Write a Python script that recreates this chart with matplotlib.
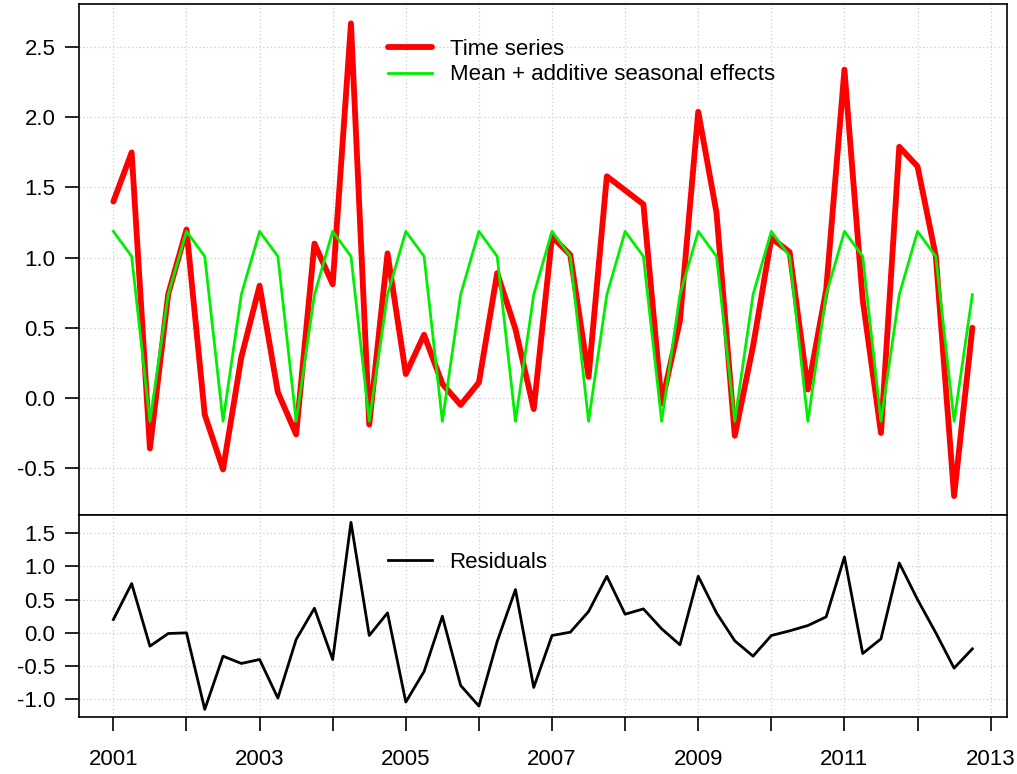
import numpy as np
import matplotlib
matplotlib.use("Agg")
import matplotlib.pyplot as plt

plt.rcParams['font.family'] = ['Liberation Sans', 'DejaVu Sans']
plt.rcParams['axes.unicode_minus'] = False

# Quarterly series, 2001 Q1 .. 2012 Q4
start_year = 2001
n_quarters = 48

series = [1.40, 1.75, -0.36, 0.74, 1.20, -0.12, -0.51, 0.29,
          0.80, 0.04, -0.26, 1.10, 0.81, 2.67, -0.19, 1.03,
          0.17, 0.45, 0.10, -0.05, 0.11, 0.89, 0.49, -0.08,
          1.15, 1.02, 0.15, 1.58, 1.48, 1.38, -0.04, 0.55,
          2.04, 1.32, -0.27, 0.37, 1.14, 1.04, 0.06, 0.77,
          2.34, 0.70, -0.25, 1.79, 1.65, 1.01, -0.70, 0.50]

# mean + seasonal effect for Q1..Q4
seasonal = [1.187, 1.009, -0.167, 0.736]

residuals = [0.20, 0.74, -0.20, -0.01, 0.00, -1.15, -0.35, -0.46,
             -0.40, -0.98, -0.10, 0.37, -0.40, 1.66, -0.04, 0.30,
             -1.04, -0.58, 0.25, -0.79, -1.10, -0.13, 0.65, -0.82,
             -0.04, 0.01, 0.32, 0.85, 0.28, 0.36, 0.06, -0.18,
             0.85, 0.30, -0.12, -0.35, -0.04, 0.03, 0.11, 0.24,
             1.14, -0.31, -0.09, 1.05, 0.50, 0.00, -0.53, -0.24]

t = start_year + np.arange(n_quarters) / 4
fitted = np.tile(seasonal, n_quarters // 4)

fig = plt.figure(figsize=(10.17, 7.74), dpi=100)
ax1 = fig.add_axes([0.0777, 0.3346, 0.9122, 0.6602])
ax2 = fig.add_axes([0.0777, 0.0740, 0.9122, 0.2606])

grid_kw = dict(color='#cccccc', linestyle=(0, (1, 2)), linewidth=0.9)
years = np.arange(2001, 2014)
fs = 16

# top panel
ax1.plot(t, series, color='#ff0000', lw=4.2, solid_joinstyle='round',
         solid_capstyle='round', label='Time series', zorder=3)
ax1.plot(t, fitted, color='#00ee00', lw=2.0, label='Mean + additive seasonal effects', zorder=4)
ax1.set_xlim(2000.53, 2013.22)
ax1.set_ylim(-0.835, 2.808)
ax1.set_yticks([-0.5, 0.0, 0.5, 1.0, 1.5, 2.0, 2.5])
ax1.set_yticklabels(['-0.5', '0.0', '0.5', '1.0', '1.5', '2.0', '2.5'])
ax1.set_xticks(years)
ax1.tick_params(axis='x', bottom=False, labelbottom=False)
ax1.grid(True, **grid_kw)
ax1.legend(loc='upper left', bbox_to_anchor=(0.312, 0.971), frameon=False,
           fontsize=fs, handlelength=1.95, handletextpad=0.8, labelspacing=0.2)

# bottom panel
ax2.plot(t, residuals, color='black', lw=2.0, label='Residuals', zorder=3)
ax2.set_xlim(2000.53, 2013.22)
ax2.set_ylim(-1.26, 1.77)
ax2.set_yticks([-1.0, -0.5, 0.0, 0.5, 1.0, 1.5])
ax2.set_yticklabels(['-1.0', '-0.5', '0.0', '0.5', '1.0', '1.5'])
ax2.set_xticks(years)
ax2.set_xticklabels([str(y) if y % 2 == 1 else '' for y in years])
ax2.grid(True, **grid_kw)
ax2.legend(loc='upper left', bbox_to_anchor=(0.312, 0.915), frameon=False,
           fontsize=fs, handlelength=1.95, handletextpad=0.8)

for ax in (ax1, ax2):
    for sp in ax.spines.values():
        sp.set_linewidth(1.2)
    ax.tick_params(axis='y', direction='out', length=10, width=1.2, labelsize=fs, pad=7)
ax2.tick_params(axis='x', direction='out', length=10, width=1.2, labelsize=fs, pad=13)

fig.savefig('out.png', dpi=100)
